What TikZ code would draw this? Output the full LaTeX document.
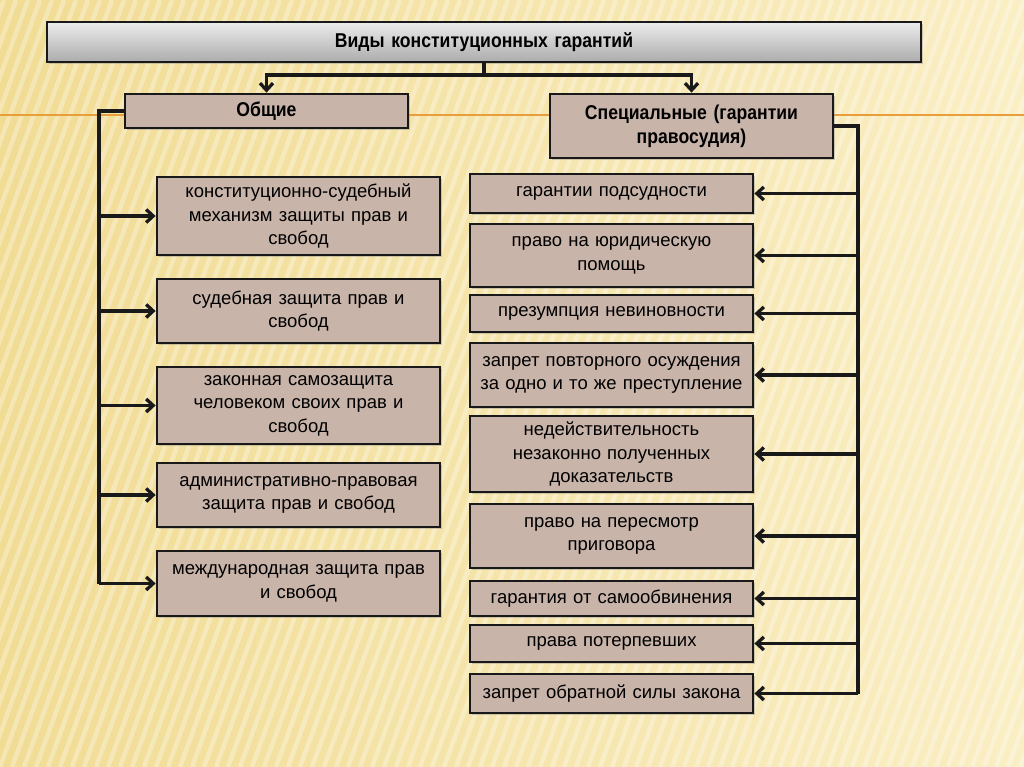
\documentclass[tikz,border=0pt]{standalone}
\usepackage{fontspec}
\setmainfont{Liberation Sans}
\newfontfamily\headfont[FakeStretch=0.88]{Liberation Sans Bold}
\usetikzlibrary{arrows.meta,shadows}

\definecolor{boxfill}{RGB}{201,180,170}
\definecolor{bgyellow}{RGB}{241,220,148}
\definecolor{bglight}{RGB}{250,238,196}
\definecolor{rulecolor}{RGB}{232,158,58}

\begin{document}
\begin{tikzpicture}[x = 1pt, y = -1pt,
    every node/.style = {font = \fontsize{18.5}{23.5}\selectfont, align = center},
    item/.style = {draw = black!90, line width = 2.8pt, fill = boxfill, inner sep = 0pt,
        minimum width = 283, text width = 278,
        drop shadow = {opacity = 0.35, shadow xshift = 2pt, shadow yshift = -2pt}},
    head/.style = {item, font = \headfont\fontsize{20}{24}\selectfont},
    link/.style = {line width = 3.3pt, draw = black!90},
    arrow/.style = {link, -{Straight Barb[length = 7pt, width = 13pt]}}]
    \useasboundingbox (0,0) rectangle (1024,767);

    % background
    \fill[left color = bgyellow, right color = bglight] (0,0) rectangle (1024,767);
    \begin{scope}
        \clip (0,0) rectangle (1024,767);
        \foreach \x in {-300,-288,...,1024}
            \draw[white, opacity = 0.3, line width = 4.5pt] (\x,767) -- (\x+280,0);
    \end{scope}
    \draw[rulecolor, line width = 2pt] (0,115) -- (1024,115);

    % top level
    \node[head, minimum width = 874, text width = 860, minimum height = 40,
        top color = gray!15, bottom color = gray!65] (title) at (484,42)
        {Виды конституционных гарантий};
    \node[head, minimum height = 34] (general) at (266.5,111) {Общие};
    \node[head, minimum height = 64] (special) at (691.5,126)
        {Специальные (гарантии\\правосудия)};

    % general guarantees
    \node[item, minimum height = 78] (g1) at (298.5,216)
        {конституционно-судебный\\механизм защиты прав и\\свобод};
    \node[item, minimum height = 64] (g2) at (298.5,311)
        {судебная защита прав и\\свобод};
    \node[item, minimum height = 77] (g3) at (298.5,405.5)
        {законная самозащита\\человеком своих прав и\\свобод};
    \node[item, minimum height = 64] (g4) at (298.5,495)
        {административно-правовая\\защита прав и свобод};
    \node[item, minimum height = 65] (g5) at (298.5,583.5)
        {международная защита прав\\и свобод};

    % special guarantees
    \node[item, minimum height = 39] (s1) at (611.5,193.5) {гарантии подсудности};
    \node[item, minimum height = 63] (s2) at (611.5,255.5)
        {право на юридическую\\помощь};
    \node[item, minimum height = 37] (s3) at (611.5,313.5) {презумпция невиновности};
    \node[item, minimum height = 64] (s4) at (611.5,375)
        {запрет повторного осуждения\\за одно и то же преступление};
    \node[item, minimum height = 76] (s5) at (611.5,454)
        {недействительность\\незаконно полученных\\доказательств};
    \node[item, minimum height = 64] (s6) at (611.5,536)
        {право на пересмотр\\приговора};
    \node[item, minimum height = 35] (s7) at (611.5,598.5) {гарантия от самообвинения};
    \node[item, minimum height = 37] (s8) at (611.5,643.5) {права потерпевших};
    \node[item, minimum height = 39] (s9) at (611.5,693.5) {запрет обратной силы закона};

    % connectors
    \coordinate (fork) at (484,75);
    \coordinate (lbus) at (99,0);
    \coordinate (rbus) at (858,0);
    \draw[link] (title.south) -- (fork);
    \draw[arrow] (fork) -| (general.north);
    \draw[arrow] (fork) -| (special.north);
    \draw[link] (general.west) -| (lbus |- g5.west);
    \draw[link] (special.east) -| (rbus |- s9.east);
    \foreach \i in {1,...,5}
        \draw[arrow] (lbus |- g\i.west) -- (g\i.west);
    \foreach \i in {1,...,9}
        \draw[arrow] (rbus |- s\i.east) -- (s\i.east);
\end{tikzpicture}
\end{document}
